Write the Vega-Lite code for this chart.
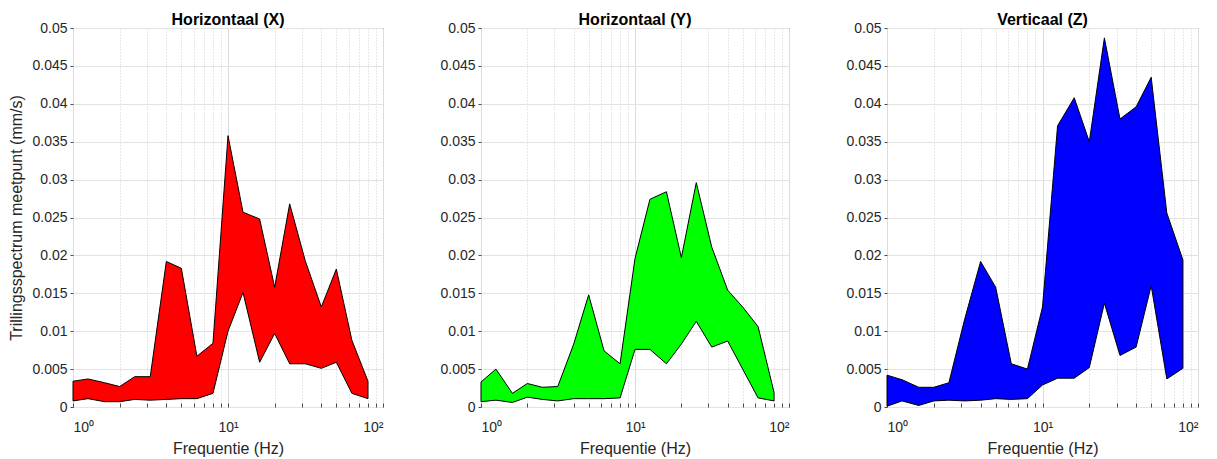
{
  "$schema": "https://vega.github.io/schema/vega-lite/v6.json",
  "padding": {"left": 8, "top": 11, "right": 5, "bottom": 5},
  "background": "white",
  "bounds": "flush",
  "spacing": 98,
  "config": {
    "font": "Liberation Sans",
    "view": {"stroke": "#404040", "strokeWidth": 1},
    "title": {"fontSize": 16, "fontWeight": "bold", "color": "#000000", "offset": -7, "font": "Liberation Sans"},
    "axis": {
      "labelFont": "Liberation Sans", "labelFontSize": 14, "labelColor": "#262626",
      "titleFont": "Liberation Sans", "titleFontSize": 16, "titleFontWeight": "normal", "titleColor": "#262626",
      "domain": false, "tickColor": "#4d4d4d", "tickSize": 3, "gridColor": "#e3e3e3", "gridWidth": 1
    },
    "axisX": {"labelFontSize": 14, "tickSize": -4, "labelPadding": 17, "titlePadding": 6},
    "axisY": {"labelPadding": 3}
  },
  "datasets": {
    "spec": [
      {"dir": "X", "f": 1, "lo": 0.0008, "hi": 0.0034},
      {"dir": "X", "f": 1.25, "lo": 0.0011, "hi": 0.0037},
      {"dir": "X", "f": 1.6, "lo": 0.0007, "hi": 0.0032},
      {"dir": "X", "f": 2, "lo": 0.0007, "hi": 0.0027},
      {"dir": "X", "f": 2.5, "lo": 0.001, "hi": 0.004},
      {"dir": "X", "f": 3.15, "lo": 0.0009, "hi": 0.004},
      {"dir": "X", "f": 4, "lo": 0.001, "hi": 0.0192},
      {"dir": "X", "f": 5, "lo": 0.0011, "hi": 0.0183},
      {"dir": "X", "f": 6.3, "lo": 0.0011, "hi": 0.0067},
      {"dir": "X", "f": 8, "lo": 0.0018, "hi": 0.0084},
      {"dir": "X", "f": 10, "lo": 0.0100, "hi": 0.0358},
      {"dir": "X", "f": 12.5, "lo": 0.0151, "hi": 0.0257},
      {"dir": "X", "f": 16, "lo": 0.0059, "hi": 0.0248},
      {"dir": "X", "f": 20, "lo": 0.0097, "hi": 0.0158},
      {"dir": "X", "f": 25, "lo": 0.0057, "hi": 0.0268},
      {"dir": "X", "f": 31.5, "lo": 0.0057, "hi": 0.0193},
      {"dir": "X", "f": 40, "lo": 0.0051, "hi": 0.0132},
      {"dir": "X", "f": 50, "lo": 0.0059, "hi": 0.0182},
      {"dir": "X", "f": 63, "lo": 0.0018, "hi": 0.0088},
      {"dir": "X", "f": 80, "lo": 0.0011, "hi": 0.0034},

      {"dir": "Y", "f": 1, "lo": 0.0007, "hi": 0.0033},
      {"dir": "Y", "f": 1.25, "lo": 0.0009, "hi": 0.005},
      {"dir": "Y", "f": 1.6, "lo": 0.0006, "hi": 0.0018},
      {"dir": "Y", "f": 2, "lo": 0.0013, "hi": 0.0031},
      {"dir": "Y", "f": 2.5, "lo": 0.001, "hi": 0.0026},
      {"dir": "Y", "f": 3.15, "lo": 0.0008, "hi": 0.0027},
      {"dir": "Y", "f": 4, "lo": 0.0011, "hi": 0.0083},
      {"dir": "Y", "f": 5, "lo": 0.0011, "hi": 0.0148},
      {"dir": "Y", "f": 6.3, "lo": 0.0011, "hi": 0.0074},
      {"dir": "Y", "f": 8, "lo": 0.0012, "hi": 0.0057},
      {"dir": "Y", "f": 10, "lo": 0.0076, "hi": 0.0196},
      {"dir": "Y", "f": 12.5, "lo": 0.0076, "hi": 0.0274},
      {"dir": "Y", "f": 16, "lo": 0.0057, "hi": 0.0284},
      {"dir": "Y", "f": 20, "lo": 0.0083, "hi": 0.0197},
      {"dir": "Y", "f": 25, "lo": 0.0113, "hi": 0.0296},
      {"dir": "Y", "f": 31.5, "lo": 0.0079, "hi": 0.0211},
      {"dir": "Y", "f": 40, "lo": 0.0087, "hi": 0.0154},
      {"dir": "Y", "f": 50, "lo": 0.005, "hi": 0.0132},
      {"dir": "Y", "f": 63, "lo": 0.0012, "hi": 0.0106},
      {"dir": "Y", "f": 80, "lo": 0.0008, "hi": 0.0019},

      {"dir": "Z", "f": 1, "lo": 0.0001, "hi": 0.0042},
      {"dir": "Z", "f": 1.25, "lo": 0.0008, "hi": 0.0036},
      {"dir": "Z", "f": 1.6, "lo": 0.0002, "hi": 0.0026},
      {"dir": "Z", "f": 2, "lo": 0.0008, "hi": 0.0026},
      {"dir": "Z", "f": 2.5, "lo": 0.0009, "hi": 0.0032},
      {"dir": "Z", "f": 3.15, "lo": 0.0008, "hi": 0.0115},
      {"dir": "Z", "f": 4, "lo": 0.0009, "hi": 0.0192},
      {"dir": "Z", "f": 5, "lo": 0.0011, "hi": 0.0158},
      {"dir": "Z", "f": 6.3, "lo": 0.001, "hi": 0.0057},
      {"dir": "Z", "f": 8, "lo": 0.0011, "hi": 0.005},
      {"dir": "Z", "f": 10, "lo": 0.0029, "hi": 0.0132},
      {"dir": "Z", "f": 12.5, "lo": 0.0038, "hi": 0.0371},
      {"dir": "Z", "f": 16, "lo": 0.0038, "hi": 0.0408},
      {"dir": "Z", "f": 20, "lo": 0.0052, "hi": 0.035},
      {"dir": "Z", "f": 25, "lo": 0.0137, "hi": 0.0487},
      {"dir": "Z", "f": 31.5, "lo": 0.0068, "hi": 0.038},
      {"dir": "Z", "f": 40, "lo": 0.0079, "hi": 0.0396},
      {"dir": "Z", "f": 50, "lo": 0.016, "hi": 0.0435},
      {"dir": "Z", "f": 63, "lo": 0.0037, "hi": 0.0256},
      {"dir": "Z", "f": 80, "lo": 0.0051, "hi": 0.0194}
    ]
  },
  "hconcat": [
    {
      "width": 310, "height": 379,
      "title": "Horizontaal (X)",
      "data": {"name": "spec"},
      "transform": [{"filter": "datum.dir == 'X'"}],
      "mark": {"type": "area", "fill": "#ff0000", "fillOpacity": 1, "stroke": "#000000", "strokeWidth": 1, "strokeJoin": "miter"},
      "encoding": {
        "x": {"field": "f", "type": "quantitative", "scale": {"type": "log", "domain": [1, 100], "nice": false},
          "axis": {"title": "Frequentie (Hz)", "values": [1,2,3,4,5,6,7,8,9,10,20,30,40,50,60,70,80,90,100],
            "labelExpr": "datum.value == 1 ? '10⁰' : datum.value == 10 ? '10¹' : datum.value == 100 ? '10²' : ''",
            "gridDash": {"condition": {"test": "datum.value == 1 || datum.value == 10 || datum.value == 100", "value": []}, "value": [1, 2]},
            "gridColor": {"condition": {"test": "datum.value == 1 || datum.value == 10 || datum.value == 100", "value": "#dcdcdc"}, "value": "#d0d0d0"}}},
        "y": {"field": "hi", "type": "quantitative", "scale": {"domain": [0, 0.05], "nice": false, "zero": true},
          "axis": {"title": "Trillingsspectrum meetpunt (mm/s)", "values": [0,0.005,0.01,0.015,0.02,0.025,0.03,0.035,0.04,0.045,0.05], "format": "~g", "titlePadding": 7}},
        "y2": {"field": "lo"}
      }
    },
    {
      "width": 308, "height": 379,
      "title": "Horizontaal (Y)",
      "data": {"name": "spec"},
      "transform": [{"filter": "datum.dir == 'Y'"}],
      "mark": {"type": "area", "fill": "#00ff00", "fillOpacity": 1, "stroke": "#000000", "strokeWidth": 1, "strokeJoin": "miter"},
      "encoding": {
        "x": {"field": "f", "type": "quantitative", "scale": {"type": "log", "domain": [1, 100], "nice": false},
          "axis": {"title": "Frequentie (Hz)", "values": [1,2,3,4,5,6,7,8,9,10,20,30,40,50,60,70,80,90,100],
            "labelExpr": "datum.value == 1 ? '10⁰' : datum.value == 10 ? '10¹' : datum.value == 100 ? '10²' : ''",
            "gridDash": {"condition": {"test": "datum.value == 1 || datum.value == 10 || datum.value == 100", "value": []}, "value": [1, 2]},
            "gridColor": {"condition": {"test": "datum.value == 1 || datum.value == 10 || datum.value == 100", "value": "#dcdcdc"}, "value": "#d0d0d0"}}},
        "y": {"field": "hi", "type": "quantitative", "scale": {"domain": [0, 0.05], "nice": false, "zero": true},
          "axis": {"title": null, "values": [0,0.005,0.01,0.015,0.02,0.025,0.03,0.035,0.04,0.045,0.05], "format": "~g"}},
        "y2": {"field": "lo"}
      }
    },
    {
      "width": 311, "height": 379,
      "title": "Verticaal (Z)",
      "data": {"name": "spec"},
      "transform": [{"filter": "datum.dir == 'Z'"}],
      "mark": {"type": "area", "fill": "#0000ff", "fillOpacity": 1, "stroke": "#000000", "strokeWidth": 1, "strokeJoin": "miter"},
      "encoding": {
        "x": {"field": "f", "type": "quantitative", "scale": {"type": "log", "domain": [1, 100], "nice": false},
          "axis": {"title": "Frequentie (Hz)", "values": [1,2,3,4,5,6,7,8,9,10,20,30,40,50,60,70,80,90,100],
            "labelExpr": "datum.value == 1 ? '10⁰' : datum.value == 10 ? '10¹' : datum.value == 100 ? '10²' : ''",
            "gridDash": {"condition": {"test": "datum.value == 1 || datum.value == 10 || datum.value == 100", "value": []}, "value": [1, 2]},
            "gridColor": {"condition": {"test": "datum.value == 1 || datum.value == 10 || datum.value == 100", "value": "#dcdcdc"}, "value": "#d0d0d0"}}},
        "y": {"field": "hi", "type": "quantitative", "scale": {"domain": [0, 0.05], "nice": false, "zero": true},
          "axis": {"title": null, "values": [0,0.005,0.01,0.015,0.02,0.025,0.03,0.035,0.04,0.045,0.05], "format": "~g"}},
        "y2": {"field": "lo"}
      }
    }
  ]
}
